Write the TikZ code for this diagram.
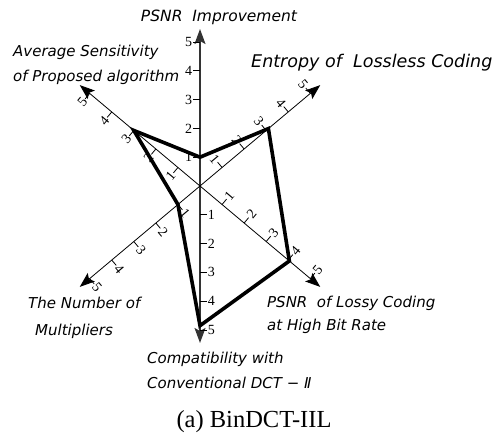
\documentclass[tikz,border=0pt]{standalone}
\usepackage{fontspec}
\setmainfont{Liberation Serif}
\newfontfamily\gothfont{DejaVu Sans Oblique}
\usetikzlibrary{arrows.meta, positioning, calc}

\begin{document}
\begin{tikzpicture}[x=1pt, y=1pt, >={Stealth[length=15pt, width=11pt, inset=3pt]}, line join=miter]
		
		%======================
		% PARAMETERS (edit here)
		%======================
		\def\u{28.8}         % one step of the radar scale
		\def\tl{7}           % tick length
		\def\ax{5.45}        % axis length (in steps)
		
		%======================
		% STYLES
		%======================
		\tikzset{
			vaxis/.style={line width=1.4pt, black!80},
			daxis/.style={line width=0.8pt, black},
			tick/.style={line width=0.8pt, black},
			ticklabel/.style={font=\fontsize{14}{14}\selectfont, inner sep=0.5pt},
			crit/.style={font=\gothfont\fontsize{15}{16}\selectfont, inner sep=0pt, anchor=west},
			radar/.style={line width=3.6pt, black},
			caption/.style={font=\fontsize{24.5}{26}\selectfont, inner sep=0pt}
		}
		
		% Utility: ticks and numbers 1..5 along one half axis
		\newcommand{\radarticks}[4]{% #1=name, #2=direction, #3=label rotation, #4=label anchor
			\foreach \k in {1,...,5}{
				\draw[tick] ({#2}:{\k*\u}) -- ++({#2+90}:\tl)
				node[ticklabel, rotate=#3, anchor=#4] (#1\k) {\k};
			}
		}
		
		\useasboundingbox (0,0) rectangle (498,434);
		
		%======================
		% RADAR (centre of the chart)
		%======================
		\begin{scope}[shift={(200,248)}]
			\coordinate (O) at (0,0);
			
			% arrow tips of the six half axes
			\coordinate (tImp) at (90:{\ax*\u});
			\coordinate (tEnt) at (40:{\ax*\u});
			\coordinate (tLossy) at (320:{\ax*\u});
			\coordinate (tComp) at (270:{\ax*\u});
			\coordinate (tMul) at (220:{\ax*\u});
			\coordinate (tSens) at (140:{\ax*\u});
			
			\draw[vaxis,->] (O) -- (tImp);
			\draw[vaxis,->] (O) -- (tComp);
			\draw[daxis,->] (O) -- (tEnt);
			\draw[daxis,->] (O) -- (tLossy);
			\draw[daxis,->] (O) -- (tMul);
			\draw[daxis,->] (O) -- (tSens);
			
			\radarticks{kImp}{90}{0}{east}
			\radarticks{kEnt}{40}{-50}{east}
			\radarticks{kSens}{140}{50}{east}
			\radarticks{kComp}{270}{0}{west}
			\radarticks{kLossy}{320}{50}{west}
			\radarticks{kMul}{220}{-50}{west}
			
			% scores of BinDCT-IIL
			\coordinate (vImp) at (90:{1*\u});
			\coordinate (vEnt) at (40:{3.1*\u});
			\coordinate (vLossy) at (320:{4.05*\u});
			\coordinate (vComp) at (270:{4.85*\u});
			\coordinate (vMul) at (220:{1*\u});
			\coordinate (vSens) at (140:{3*\u});
			
			\draw[radar] (vImp) -- (vEnt) -- (vLossy) -- (vComp) -- (vMul) -- (vSens) -- cycle;
		\end{scope}
		
		%======================
		% CRITERIA
		%======================
		\node[crit, font=\gothfont\fontsize{15.5}{16}\selectfont, anchor=center] (lImp) at (219,417) {PSNR\ \ Improvement};
		\node[crit] (lSensA) at (13,382) {Average Sensitivity};
		\node[crit] (lSensB) at (13,357) {of Proposed algorithm};
		\node[crit, font=\gothfont\fontsize{17.5}{18}\selectfont] (lEnt) at (251,371) {Entropy of\ \ Lossless Coding};
		\node[crit] (lMulA) at (28,131) {The Number of};
		\node[crit] (lMulB) at (35,103) {Multipliers};
		\node[crit] (lLossyA) at (267,131) {PSNR\ \ of Lossy Coding};
		\node[crit] (lLossyB) at (267,108) {at High Bit Rate};
		\node[crit] (lCompA) at (147,75) {Compatibility with};
		\node[crit] (lCompB) at (147,51) {Conventional DCT − Ⅱ};
		
		\node[caption] (cap) at (254,12) {(a) BinDCT-IIL};
		
	\end{tikzpicture}
\end{document}
